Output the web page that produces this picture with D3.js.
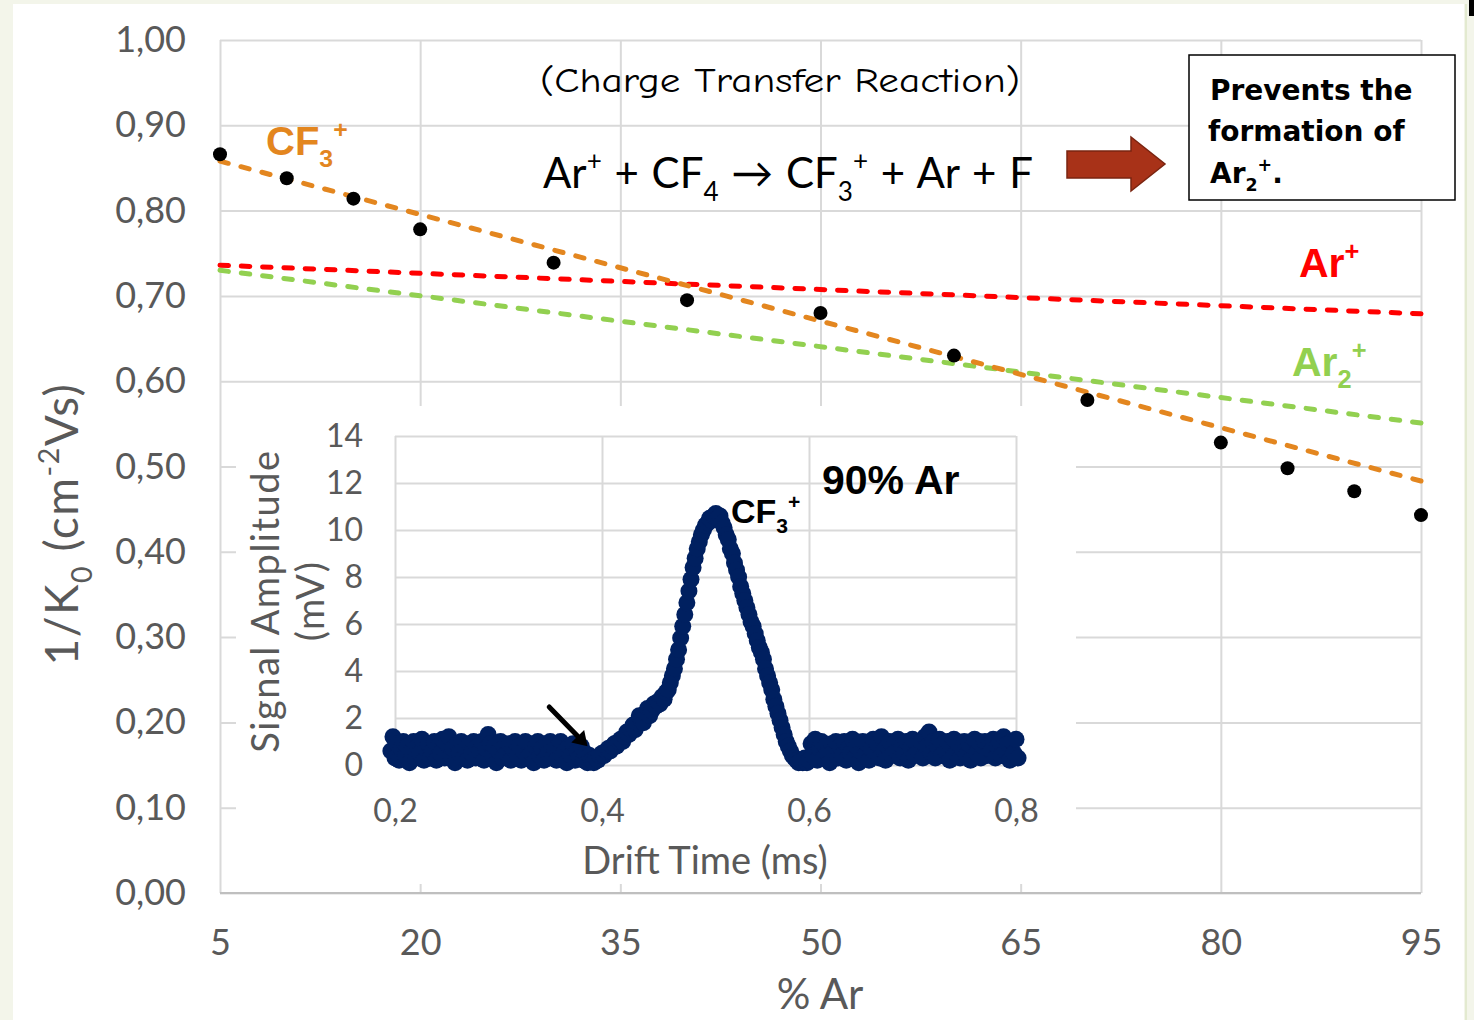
<!DOCTYPE html>
<head>
<meta charset="utf-8">
<title>1/K0 vs % Ar</title>
<style>
  body { margin: 0; background: #f3f5ea; }
  svg { display: block; }
</style>
</head>
<body>
<script src="https://d3js.org/d3.v7.min.js"></script>
<script>
// main chart: reduced mobility vs argon fraction
const arPct = [5, 10, 15, 20, 30, 40, 50, 60, 70, 80, 85, 90, 95];
const invK0 = [0.866, 0.838, 0.814, 0.778, 0.739, 0.695, 0.680, 0.630, 0.578, 0.528, 0.498, 0.471, 0.443];

// trend lines, value at 5 % and at 95 % Ar
const trendX = [5, 95];
const trendCF3 = [0.858, 0.483];
const trendAr = [0.736, 0.679];
const trendAr2 = [0.730, 0.551];

const xTicks = [5, 20, 35, 50, 65, 80, 95];
const yTicks = [0, 0.1, 0.2, 0.3, 0.4, 0.5, 0.6, 0.7, 0.8, 0.9, 1.0];

// inset: drift spectrum at 90% Ar  [drift time ms, amplitude mV]
const signal = [
  [0.196,0.6],[0.198,1.2],[0.200,0.3],[0.202,0.9],[0.204,0.2],[0.206,0.7],[0.208,1.0],[0.210,0.4],
  [0.212,0.8],[0.214,0.1],[0.216,0.6],[0.218,1.0],[0.220,0.3],[0.222,0.8],[0.224,0.5],[0.226,1.1],
  [0.228,0.2],[0.230,0.7],[0.232,0.9],[0.234,0.3],[0.236,0.6],[0.238,1.0],[0.240,0.2],[0.242,0.8],
  [0.244,0.5],[0.246,1.1],[0.248,0.3],[0.250,0.9],[0.252,1.2],[0.254,0.4],[0.256,0.7],[0.258,0.1],
  [0.260,0.9],[0.262,0.5],[0.264,1.0],[0.266,0.3],[0.268,0.7],[0.270,0.2],[0.272,0.9],[0.274,0.5],
  [0.276,1.0],[0.278,0.3],[0.280,0.8],[0.282,0.6],[0.284,1.0],[0.286,0.2],[0.288,0.7],[0.290,1.3],
  [0.292,0.9],[0.294,0.4],[0.296,0.8],[0.298,0.1],[0.300,0.6],[0.302,1.0],[0.304,0.3],[0.306,0.8],
  [0.308,0.5],[0.310,0.9],[0.312,0.2],[0.314,0.7],[0.316,1.0],[0.318,0.4],[0.320,0.8],[0.322,0.2],
  [0.324,0.6],[0.326,1.0],[0.328,0.3],[0.330,0.9],[0.332,0.5],[0.334,0.1],[0.336,0.8],[0.338,1.0],
  [0.340,0.4],[0.342,0.7],[0.344,0.2],[0.346,0.9],[0.348,0.5],[0.350,1.0],[0.352,0.3],[0.354,0.7],
  [0.356,0.2],[0.358,0.8],[0.360,1.0],[0.362,0.4],[0.364,0.6],[0.366,0.1],[0.368,0.8],[0.370,0.4],
  [0.372,0.9],[0.374,0.2],[0.376,0.6],[0.378,0.3],[0.380,0.8],[0.382,0.2],[0.384,0.5],[0.386,0.1],
  [0.388,0.4],[0.390,0.2],[0.392,0.1],[0.394,0.3],[0.396,0.2],[0.398,0.4],[0.400,0.5],[0.402,0.4],
  [0.404,0.6],[0.406,0.7],[0.408,0.6],[0.410,0.8],[0.412,0.9],[0.414,0.8],[0.416,1.0],[0.418,1.1],
  [0.420,1.0],[0.422,1.2],[0.424,1.4],[0.426,1.3],[0.428,1.5],[0.430,1.7],[0.432,1.5],[0.434,1.8],
  [0.436,2.1],[0.438,1.9],[0.440,1.8],[0.442,2.2],[0.444,2.4],[0.446,2.1],[0.448,2.3],[0.450,2.6],
  [0.452,2.5],[0.454,2.7],[0.456,2.6],[0.458,2.9],[0.460,2.8],[0.462,3.1],[0.464,3.2],[0.466,3.5],
  [0.468,3.8],[0.470,4.1],[0.472,4.5],[0.474,4.9],[0.476,5.4],[0.478,5.9],[0.480,6.4],[0.482,6.9],
  [0.484,7.4],[0.486,7.9],[0.488,8.4],[0.490,8.8],[0.492,9.2],[0.494,9.5],[0.496,9.8],[0.498,10.0],
  [0.500,10.2],[0.502,10.3],[0.504,10.5],[0.506,10.4],[0.508,10.6],[0.510,10.7],[0.512,10.5],[0.514,10.6],
  [0.516,10.3],[0.518,10.1],[0.520,9.8],[0.522,9.6],[0.524,9.2],[0.526,9.0],[0.528,8.6],[0.530,8.3],
  [0.532,8.0],[0.534,7.6],[0.536,7.3],[0.538,7.0],[0.540,6.7],[0.542,6.4],[0.544,6.1],[0.546,5.9],
  [0.548,5.6],[0.550,5.3],[0.552,5.0],[0.554,4.8],[0.556,4.5],[0.558,4.1],[0.560,3.8],[0.562,3.5],
  [0.564,3.2],[0.566,2.8],[0.568,2.5],[0.570,2.2],[0.572,1.9],[0.574,1.6],[0.576,1.3],[0.578,1.0],
  [0.580,0.8],[0.582,0.6],[0.584,0.4],[0.586,0.3],[0.588,0.2],[0.590,0.1],[0.592,0.2],[0.594,0.1],
  [0.596,0.3],[0.598,0.1],[0.600,0.2],
  [0.602,0.9],[0.604,0.4],[0.606,1.1],[0.608,0.2],[0.610,0.7],[0.612,1.0],[0.614,0.3],[0.616,0.8],
  [0.618,0.5],[0.620,0.1],[0.622,0.9],[0.624,0.6],[0.626,1.0],[0.628,0.3],[0.630,0.8],[0.632,0.4],
  [0.634,1.0],[0.636,0.2],[0.638,0.7],[0.640,0.5],[0.642,1.1],[0.644,0.3],[0.646,0.8],[0.648,0.1],
  [0.650,0.6],[0.652,1.0],[0.654,0.4],[0.656,0.9],[0.658,0.2],[0.660,0.7],[0.662,1.1],[0.664,0.5],
  [0.666,0.9],[0.668,0.3],[0.670,1.2],[0.672,0.6],[0.674,0.2],[0.676,0.8],[0.678,1.0],[0.680,0.4],
  [0.682,0.9],[0.684,0.6],[0.686,1.1],[0.688,0.3],[0.690,0.8],[0.692,0.5],[0.694,1.0],[0.696,0.2],
  [0.698,0.7],[0.700,1.1],[0.702,0.4],[0.704,0.9],[0.706,0.6],[0.708,1.0],[0.710,0.3],[0.712,1.2],
  [0.714,0.8],[0.716,1.4],[0.718,0.5],[0.720,1.0],[0.722,0.3],[0.724,0.8],[0.726,1.1],[0.728,0.4],
  [0.730,0.9],[0.732,0.6],[0.734,1.0],[0.736,0.2],[0.738,0.8],[0.740,1.1],[0.742,0.5],[0.744,0.9],
  [0.746,0.3],[0.748,0.7],[0.750,1.0],[0.752,0.4],[0.754,0.9],[0.756,0.2],[0.758,0.8],[0.760,1.1],
  [0.762,0.5],[0.764,1.0],[0.766,0.3],[0.768,0.8],[0.770,1.0],[0.772,0.4],[0.774,0.9],[0.776,0.6],
  [0.778,1.1],[0.780,0.3],[0.782,0.8],[0.784,1.0],[0.786,0.4],[0.788,1.2],[0.790,0.6],[0.792,0.9],
  [0.794,0.2],[0.796,1.0],[0.798,0.5],[0.800,1.1],[0.802,0.3]
];
const insetXTicks = [0.2, 0.4, 0.6, 0.8];
const insetYTicks = [0, 2, 4, 6, 8, 10, 12, 14];
// annotation arrow in the inset: [ms, mV] tail and tip
const onsetArrow = [[0.349, 2.47], [0.386, 0.8]];

const width = 1474, height = 1020;
const gray = "#595959", grid = "#d9d9d9";
const sans = "Lato, 'Open Sans', sans-serif";
const bold = "'Liberation Sans', Arial, sans-serif";

const locale = d3.formatLocale({decimal: ",", thousands: ".", grouping: [3], currency: ["", ""]});
const fmt2 = locale.format(".2f"), fmt1 = locale.format(".1f");

const svg = d3.select("body").append("svg")
  .attr("width", width)
  .attr("height", height);

// slide background
svg.append("rect").attr("x", 13).attr("y", 4).attr("width", 1451).attr("height", 1016).attr("fill", "#fff");
svg.append("line").attr("x1", 1466).attr("x2", 1466).attr("y1", 4).attr("y2", 1020)
  .attr("stroke", "#e3ead0").attr("stroke-width", 2);
svg.append("rect").attr("x", 1469).attr("y", 0).attr("width", 5).attr("height", 16).attr("fill", "#000");

// helper for sub/superscripts
function rich(sel, parts, size) {
  let off = 0;
  parts.forEach(([t, k]) => {
    const target = k === "sub" ? 0.3 * size : k === "sup" ? -0.42 * size : 0;
    sel.append("tspan")
      .attr("dy", target - off)
      .attr("font-size", k ? size * 0.62 : size)
      .text(t);
    off = target;
  });
  return sel;
}

let x = d3.scaleLinear().domain([5, 95]).range([220, 1421]);
let y = d3.scaleLinear().domain([0, 1]).range([893, 40]);

// main y axis + horizontal grid
let yAxis = svg.append("g")
  .attr("transform", `translate(${x(5)},0)`)
  .call(d3.axisLeft(y).tickValues(yTicks).tickSize(-(x(95) - x(5))).tickPadding(34).tickFormat(fmt2));
yAxis.select(".domain").remove();
yAxis.selectAll("line").attr("stroke", grid).attr("stroke-width", 2);
yAxis.selectAll("text").attr("font-family", sans).attr("font-size", 36).attr("fill", gray);

// main x axis + vertical grid
let xAxis = svg.append("g")
  .attr("transform", `translate(0,${y(0)})`)
  .call(d3.axisBottom(x).tickValues(xTicks).tickSize(-(y(0) - y(1))).tickPadding(36));
xAxis.select(".domain").remove();
xAxis.selectAll("line").attr("stroke", grid).attr("stroke-width", 2);
xAxis.selectAll("text").attr("font-family", sans).attr("font-size", 36).attr("fill", gray);
svg.append("line")
  .attr("x1", x(5)).attr("x2", x(95)).attr("y1", y(0)).attr("y2", y(0))
  .attr("stroke", "#bfbfbf").attr("stroke-width", 2);

// trend lines, dash period fitted so both ends carry a dash
let line = d3.line().x(d => x(d[0])).y(d => y(d[1]));
[[trendAr, "#ff0000"], [trendAr2, "#92d050"], [trendCF3, "#e3861f"]].forEach(([vals, c]) => {
  let p = svg.append("path")
    .datum(trendX.map((v, i) => [v, vals[i]]))
    .attr("d", line)
    .attr("fill", "none")
    .attr("stroke", c)
    .attr("stroke-width", 5)
    .attr("stroke-linecap", "round");
  let len = p.node().getTotalLength();
  let n = Math.round((len - 8.5) / 21.5);
  let period = (len - 8.5) / n;
  p.attr("stroke-dasharray", `8.5,${period - 8.5}`);
});

// measured points
svg.selectAll(".pt")
  .data(arPct.map((v, i) => [v, invK0[i]]))
  .join("circle")
  .attr("class", "pt")
  .attr("cx", d => x(d[0]))
  .attr("cy", d => y(d[1]))
  .attr("r", 7)
  .attr("fill", "#000");

// series labels
rich(svg.append("text").attr("x", 266).attr("y", 155).attr("font-family", bold)
  .attr("font-weight", "bold").attr("fill", "#e3861f"), [["CF", ""], ["3", "sub"], ["+", "sup"]], 40);
rich(svg.append("text").attr("x", 1299).attr("y", 277).attr("font-family", bold)
  .attr("font-weight", "bold").attr("fill", "#ff0000"), [["Ar", ""], ["+", "sup"]], 41);
rich(svg.append("text").attr("x", 1292).attr("y", 376).attr("font-family", bold)
  .attr("font-weight", "bold").attr("fill", "#92d050"), [["Ar", ""], ["2", "sub"], ["+", "sup"]], 41);

// axis titles
rich(svg.append("text")
  .attr("transform", "translate(78,524) rotate(-90)")
  .attr("text-anchor", "middle")
  .attr("font-family", sans).attr("fill", gray)
  .attr("letter-spacing", 1.5),
  [["1/K", ""], ["0", "sub"], [" (cm", ""], ["-2", "sup"], ["Vs)", ""]], 46);
svg.append("text")
  .attr("x", 820).attr("y", 1009)
  .attr("text-anchor", "middle")
  .attr("font-family", sans).attr("font-size", 42).attr("fill", gray)
  .text("% Ar");

// reaction text
svg.append("text")
  .attr("x", 540).attr("y", 92)
  .attr("font-family", "'Comic Sans MS', 'Comic Neue', 'DejaVu Sans', cursive")
  .attr("font-size", 35).attr("fill", "#000")
  .attr("textLength", 480).attr("lengthAdjust", "spacingAndGlyphs")
  .text("(Charge Transfer Reaction)");
rich(svg.append("text").attr("x", 543).attr("y", 188).attr("font-family", sans).attr("fill", "#000")
  .attr("word-spacing", 2),
  [["Ar", ""], ["+", "sup"], [" + CF", ""], ["4", "sub"], [" \u2192 CF", ""], ["3", "sub"], ["+", "sup"], ["   + Ar + F", ""]], 42);

// block arrow
svg.append("path")
  .attr("d", "M1067,151 L1131,151 L1131,137 L1165,164 L1131,191 L1131,178 L1067,178 Z")
  .attr("fill", "#a83218").attr("stroke", "#7a2410").attr("stroke-width", 1.5);

// note box
svg.append("rect")
  .attr("x", 1189).attr("y", 55).attr("width", 266).attr("height", 145)
  .attr("fill", "#fff").attr("stroke", "#000").attr("stroke-width", 1.5);
let note = svg.append("g").attr("font-family", "'DejaVu Sans', Verdana, sans-serif")
  .attr("font-weight", "bold").attr("fill", "#000");
note.append("text").attr("x", 1210).attr("y", 100).attr("font-size", 28).text("Prevents the");
note.append("text").attr("x", 1208).attr("y", 141).attr("font-size", 28).text("formation of");
rich(note.append("text").attr("x", 1210).attr("y", 183), [["Ar", ""], ["2", "sub"], ["+", "sup"], [".", ""]], 28);

// ---- inset ----
svg.append("rect").attr("x", 236).attr("y", 406).attr("width", 840).attr("height", 478).attr("fill", "#fff");

let xi = d3.scaleLinear().domain([0.2, 0.8]).range([395, 1016]);
let yi = d3.scaleLinear().domain([0, 14]).range([765, 436]);

let yiAxis = svg.append("g")
  .attr("transform", `translate(${xi(0.2)},0)`)
  .call(d3.axisLeft(yi).tickValues(insetYTicks).tickSize(-(xi(0.8) - xi(0.2))).tickPadding(32));
yiAxis.select(".domain").remove();
yiAxis.selectAll("line").attr("stroke", grid).attr("stroke-width", 2);
yiAxis.selectAll("text").attr("font-family", sans).attr("font-size", 32).attr("fill", gray);

let xiAxis = svg.append("g")
  .attr("transform", `translate(0,${yi(0)})`)
  .call(d3.axisBottom(xi).tickValues(insetXTicks).tickSize(-(yi(0) - yi(14))).tickPadding(34).tickFormat(fmt1));
xiAxis.select(".domain").remove();
xiAxis.selectAll("line").attr("stroke", grid).attr("stroke-width", 2);
xiAxis.selectAll("text").attr("font-family", sans).attr("font-size", 32).attr("fill", gray);

svg.selectAll(".sig")
  .data(signal)
  .join("circle")
  .attr("class", "sig")
  .attr("cx", d => xi(d[0]))
  .attr("cy", d => yi(d[1]))
  .attr("r", 8.5)
  .attr("fill", "#002060");

// onset arrow
let [tail, tip] = onsetArrow.map(d => [xi(d[0]), yi(d[1])]);
let ang = Math.atan2(tip[1] - tail[1], tip[0] - tail[0]);
let back = [tip[0] - 14 * Math.cos(ang), tip[1] - 14 * Math.sin(ang)];
svg.append("line")
  .attr("x1", tail[0]).attr("y1", tail[1]).attr("x2", back[0]).attr("y2", back[1])
  .attr("stroke", "#000").attr("stroke-width", 5).attr("stroke-linecap", "round");
svg.append("path")
  .attr("d", `M${tip[0]},${tip[1]}`
    + `L${back[0] + 9 * Math.sin(ang)},${back[1] - 9 * Math.cos(ang)}`
    + `L${back[0] - 9 * Math.sin(ang)},${back[1] + 9 * Math.cos(ang)}Z`)
  .attr("fill", "#000");

// inset titles
svg.append("text")
  .attr("x", 705).attr("y", 874)
  .attr("text-anchor", "middle")
  .attr("font-family", sans).attr("font-size", 38).attr("fill", gray)
  .text("Drift Time (ms)");
let yiTitle = svg.append("text")
  .attr("transform", "translate(279,601) rotate(-90)")
  .attr("text-anchor", "middle")
  .attr("font-family", sans).attr("font-size", 38).attr("fill", gray)
  .attr("letter-spacing", 1.5);
yiTitle.append("tspan").attr("x", 0).attr("dy", 0).text("Signal Amplitude");
yiTitle.append("tspan").attr("x", 0).attr("dy", 45).text("(mV)");

svg.append("text")
  .attr("x", 822).attr("y", 494)
  .attr("font-family", bold).attr("font-weight", "bold")
  .attr("font-size", 41).attr("fill", "#000")
  .text("90% Ar");
rich(svg.append("text").attr("x", 731).attr("y", 523).attr("font-family", bold)
  .attr("font-weight", "bold").attr("fill", "#000"), [["CF", ""], ["3", "sub"], ["+", "sup"]], 34);
</script>
</body>
